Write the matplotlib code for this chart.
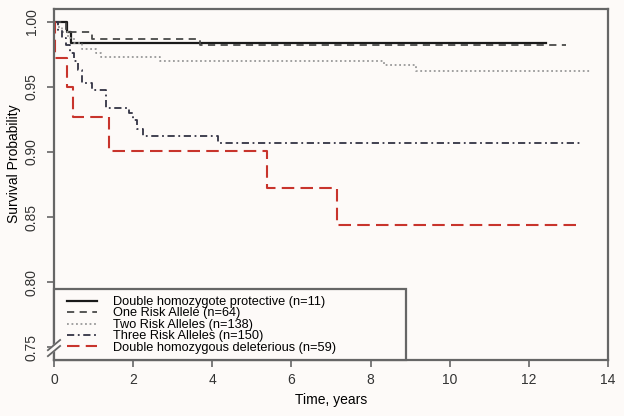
import matplotlib.pyplot as plt
from matplotlib.patches import Rectangle

plt.rcParams['font.family'] = ['Liberation Sans', 'DejaVu Sans']

BG = "#fdfaf8"
AXIS_COLOR = "#666666"

# survival curves (step at each time, value after the step)
labels = [
    "Double homozygote protective (n=11)",
    "One Risk Allele (n=64)",
    "Two Risk Alleles (n=138)",
    "Three Risk Alleles (n=150)",
    "Double homozygous deleterious (n=59)",
]

t_protective = [0, 0.33, 0.42]
s_protective = [1.0, 0.992, 0.984]

t_one = [0, 0.3, 0.95, 3.68]
s_one = [1.0, 0.992, 0.987, 0.982]

t_two = [0, 0.1, 0.2, 0.35, 0.5, 0.7, 1.05, 1.2, 2.68, 8.33, 9.14]
s_two = [1.0, 0.996, 0.992, 0.988, 0.984, 0.979, 0.976, 0.973, 0.970, 0.967, 0.962]

t_three = [0, 0.1, 0.2, 0.3, 0.4, 0.5, 0.6, 0.7, 0.96, 1.32, 1.9, 2.0, 2.1, 2.25, 4.15]
s_three = [1.0, 0.994, 0.988, 0.982, 0.976, 0.970, 0.963, 0.953, 0.948, 0.934,
           0.930, 0.925, 0.918, 0.912, 0.907]

t_delet = [0, 0.02, 0.33, 0.47, 1.4, 5.38, 7.16]
s_delet = [1.0, 0.972, 0.950, 0.927, 0.901, 0.872, 0.844]

end_times = [12.43, 12.95, 13.57, 13.3, 13.2]

x_ticks = [0, 2, 4, 6, 8, 10, 12, 14]
y_ticks = [0.75, 0.80, 0.85, 0.90, 0.95, 1.00]

styles = [
    dict(color="#1a1a1a", linestyle="-", linewidth=1.6),
    dict(color="#4a4a4a", linestyle=(0, (4, 3)), linewidth=1.3),
    dict(color="#999999", linestyle=(0, (1, 1.5)), linewidth=1.3),
    dict(color="#333344", linestyle=(0, (4, 2, 1, 2)), linewidth=1.3),
    dict(color="#c8342c", linestyle=(0, (6, 3)), linewidth=1.5),
]


def main():
    fig = plt.figure(figsize=(6.24, 4.16), dpi=100, facecolor=BG)
    ax = fig.add_axes([54 / 624, 1 - 360 / 416, 554 / 624, 351 / 416])
    ax.set_facecolor(BG)

    curves = [
        (t_protective, s_protective),
        (t_one, s_one),
        (t_two, s_two),
        (t_three, s_three),
        (t_delet, s_delet),
    ]
    for (t, s), end, lab, st in zip(curves, end_times, labels, styles):
        ax.step(list(t) + [end], list(s) + [s[-1]], where="post", label=lab, **st)

    ax.set_xlim(0, 14)
    ax.set_ylim(0.74, 1.01)
    ax.set_xticks(x_ticks)
    ax.set_yticks(y_ticks)
    ax.set_yticklabels([f"{v:.2f}" for v in y_ticks], rotation=90, va="center")
    ax.tick_params(axis="x", colors=AXIS_COLOR, labelcolor="#333333",
                   labelsize=10, length=5, width=1.2, pad=4)
    ax.tick_params(axis="y", colors=AXIS_COLOR, labelcolor="#333333",
                   labelsize=10, length=5, width=1.2, pad=6)
    for sp in ax.spines.values():
        sp.set_color(AXIS_COLOR)
        sp.set_linewidth(1.6)

    ax.set_xlabel("Time, years", fontsize=10, labelpad=5)
    ax.set_ylabel("Survival Probability", fontsize=10)
    ax.yaxis.set_label_coords(-0.06, 0.56)

    # legend box in the lower left corner, R style
    box = Rectangle((0, 0), 352 / 554, 71 / 351, transform=ax.transAxes,
                    facecolor=BG, edgecolor=AXIS_COLOR, linewidth=1.6,
                    zorder=4.5, clip_on=False)
    ax.add_patch(box)
    ax.legend(loc="upper left", bbox_to_anchor=(13 / 554, 64 / 351),
              borderaxespad=0, borderpad=0, frameon=False, fontsize=9.2,
              labelspacing=-0.04, handlelength=2.35, handletextpad=1.25)

    # axis break mark on the y axis
    tr = ax.transAxes
    ax.fill([-0.011, 0.011, 0.011, -0.011], [0.028, 0.057, 0.040, 0.011],
            color=BG, transform=tr, clip_on=False, zorder=10)
    ax.plot([-0.011, 0.011], [0.028, 0.057], color=AXIS_COLOR, lw=1.3,
            transform=tr, clip_on=False, zorder=11)
    ax.plot([-0.011, 0.011], [0.011, 0.040], color=AXIS_COLOR, lw=1.3,
            transform=tr, clip_on=False, zorder=11)

    fig.savefig("out.png", dpi=100, facecolor=BG)


if __name__ == "__main__":
    main()
